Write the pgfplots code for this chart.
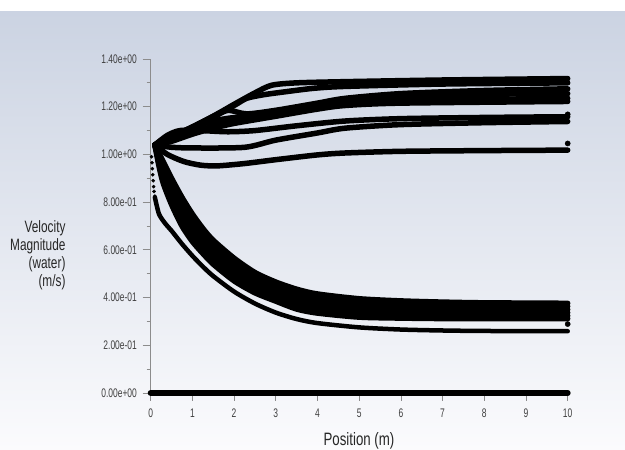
\documentclass[border=0pt]{standalone}
\usepackage{pgfplots}
\pgfplotsset{compat=1.18}
\usepackage{fontspec}
\setmainfont{Liberation Sans}
\definecolor{bgtop}{RGB}{203,211,226}
\definecolor{bgbot}{RGB}{251,251,253}
\begin{document}
\begin{tikzpicture}
\fill[top color=bgtop, bottom color=bgbot] (-150.7bp,-57bp) rectangle (474.3bp,382bp);
\fill[white] (-150.7bp,382bp) rectangle (474.3bp,393bp);
\begin{axis}[
  scale only axis, width=417bp, height=334bp,
  xmin=0, xmax=10, ymin=0, ymax=1.4,
  axis x line*=bottom, axis y line*=left,
  axis line style={black!45, line width=0.8bp},
  xtick={0,1,2,3,4,5,6,7,8,9,10},
  xticklabels={0,1,2,3,4,5,6,7,8,9,10},
  ytick={0,0.2,0.4,0.6,0.8,1.0,1.2,1.4},
  yticklabels={0.00e+00,2.00e-01,4.00e-01,6.00e-01,8.00e-01,1.00e+00,1.20e+00,1.40e+00},
  minor y tick num=1,
  tick align=outside,
  major tick length=8bp, minor tick length=4bp,
  tick style={black!45, line width=0.8bp},
  ticklabel style={font=\fontsize{12.5}{14}\selectfont, text=black!75, xscale=0.68},
  yticklabel style={xshift=-5bp},
  xticklabel style={yshift=-4bp},
  clip=false,
  vl/.style={black, line width=5.5bp, line cap=round, line join=round, mark=none, smooth, tension=0.45},
]
% bottom line
\addplot[black, line width=6bp, line cap=round, mark=none] coordinates {(0,0)(10,0)};
% upper group
\addplot[vl] coordinates {(0.1,1.04)(0.5,1.075)(1,1.115)(1.5,1.16)(2,1.21)(2.5,1.258)(2.9,1.29)(3.5,1.30)(4.66,1.305)(7,1.312)(10,1.318)};
\addplot[vl] coordinates {(0.1,1.04)(0.5,1.075)(1,1.115)(1.5,1.16)(2,1.205)(2.3,1.235)(2.7,1.25)(3.2,1.262)(3.9,1.277)(4.66,1.285)(7,1.295)(10,1.30)};
\addplot[vl] coordinates {(0.1,1.04)(0.5,1.07)(1,1.11)(1.5,1.155)(1.85,1.185)(2.3,1.17)(3,1.185)(4,1.215)(4.66,1.235)(6,1.255)(8,1.268)(10,1.275)};
\addplot[vl] coordinates {(0.1,1.04)(0.5,1.065)(1,1.10)(1.3,1.13)(1.8,1.15)(2.3,1.16)(3,1.18)(4,1.205)(4.66,1.225)(6,1.242)(8,1.252)(10,1.255)};
\addplot[vl] coordinates {(0.1,1.04)(0.5,1.06)(1,1.09)(1.5,1.12)(2,1.15)(3,1.172)(4,1.198)(4.66,1.21)(6,1.225)(10,1.235)};
\addplot[vl] coordinates {(0.1,1.04)(0.5,1.055)(1,1.085)(1.5,1.11)(2,1.13)(3,1.16)(4,1.19)(4.66,1.205)(6,1.215)(10,1.222)};
\addplot[vl] coordinates {(0.1,1.04)(0.4,1.08)(0.7,1.10)(1.2,1.10)(1.85,1.095)(2.5,1.10)(3.5,1.12)(4.66,1.14)(6,1.15)(8,1.155)(10,1.158)};
\addplot[vl] coordinates {(0.1,1.04)(0.5,1.03)(1.06,1.027)(2.26,1.03)(3,1.06)(4,1.09)(4.66,1.11)(6,1.125)(8,1.133)(10,1.138)};
\addplot[vl] coordinates {(0.1,1.04)(0.4,1.0)(0.8,0.97)(1.2,0.955)(1.6,0.952)(2.26,0.962)(3,0.978)(4,0.998)(4.66,1.006)(6,1.013)(8,1.016)(10,1.018)};
% lower group
\addplot[vl] coordinates {(0.1,1.04)(0.3,0.97)(0.5,0.90)(0.75,0.82)(1,0.75)(1.25,0.69)(1.5,0.64)(2,0.565)(2.5,0.505)(3,0.465)(3.5,0.435)(4,0.415)(5,0.395)(6,0.386)(7,0.381)(8,0.378)(10,0.376)};
\addplot[vl] coordinates {(0.1,1.04)(0.3,0.952)(0.5,0.878)(0.75,0.796)(1,0.727)(1.25,0.669)(1.5,0.62)(2,0.546)(2.5,0.488)(3,0.449)(3.5,0.419)(4,0.399)(5,0.38)(6,0.372)(7,0.367)(8,0.365)(10,0.363)};
\addplot[vl] coordinates {(0.1,1.04)(0.3,0.934)(0.5,0.856)(0.75,0.772)(1,0.704)(1.25,0.648)(1.5,0.6)(2,0.527)(2.5,0.471)(3,0.433)(3.5,0.403)(4,0.383)(5,0.365)(6,0.357)(7,0.353)(8,0.351)(10,0.35)};
\addplot[vl] coordinates {(0.1,1.04)(0.3,0.916)(0.5,0.834)(0.75,0.748)(1,0.681)(1.25,0.627)(1.5,0.58)(2,0.508)(2.5,0.454)(3,0.417)(3.5,0.387)(4,0.367)(5,0.35)(6,0.343)(7,0.339)(8,0.337)(10,0.337)};
\addplot[vl] coordinates {(0.1,1.04)(0.3,0.898)(0.5,0.812)(0.75,0.724)(1,0.658)(1.25,0.606)(1.5,0.56)(2,0.489)(2.5,0.437)(3,0.401)(3.5,0.369)(4,0.351)(5,0.334)(6,0.328)(7,0.325)(8,0.324)(10,0.324)};
\addplot[vl] coordinates {(0.1,1.04)(0.2,0.95)(0.3,0.88)(0.5,0.79)(0.75,0.70)(1,0.635)(1.25,0.585)(1.5,0.54)(2,0.47)(2.5,0.42)(3,0.385)(3.5,0.352)(4,0.335)(5,0.318)(6,0.314)(7,0.312)(8,0.312)(10,0.312)};
\addplot[vl, line width=4.5bp] coordinates {(0.1,0.82)(0.2,0.75)(0.35,0.71)(0.5,0.68)(0.75,0.625)(1,0.575)(1.25,0.53)(1.5,0.49)(2,0.425)(2.5,0.375)(3,0.337)(3.5,0.31)(4,0.293)(5,0.275)(6,0.266)(7,0.262)(8,0.26)(10,0.259)};
% dotted start and end dots
\addplot[only marks, mark=*, mark size=1.6bp, black] coordinates {(0.02,0.99)(0.03,0.965)(0.04,0.94)(0.05,0.915)(0.06,0.89)(0.07,0.865)(0.08,0.845)(0.1,0.825)};
\addplot[only marks, mark=*, mark size=2.6bp, black] coordinates {(10,1.046)(10,0.289)(10,1.168)(0.1,1.04)};
\end{axis}
\node[anchor=east, xscale=0.72, font=\fontsize{16.5}{18}\selectfont, align=right, text=black!85] at (-82.7bp,138bp) {Velocity\\Magnitude\\(water)\\(m/s)};
\node[xscale=0.74, font=\fontsize{18}{20}\selectfont, text=black!85] at (208.3bp,-48bp) {Position (m)};
\pgfresetboundingbox
\useasboundingbox (-150.7bp,-57bp) rectangle (474.3bp,393bp);
\end{tikzpicture}
\end{document}
